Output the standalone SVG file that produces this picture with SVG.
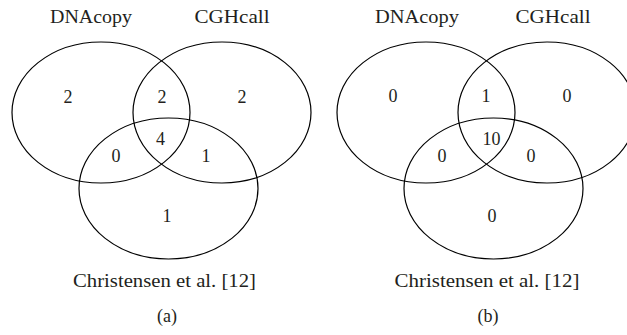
<svg xmlns="http://www.w3.org/2000/svg" width="627" height="335" viewBox="0 0 627 335">
<style>
.set{fill:none;stroke:#000;stroke-width:1.2}
text{font-family:"Liberation Serif","Times New Roman",serif;font-size:18px;fill:#231f20;text-anchor:middle}
</style>
<rect width="627" height="335" fill="#fff"/>
<g id="panel-a">
  <g id="a-dnacopy">
    <ellipse class="set" cx="101" cy="112.5" rx="89" ry="70.5"/>
    <text x="91" y="23" textLength="82" lengthAdjust="spacingAndGlyphs">DNAcopy</text>
  </g>
  <g id="a-cghcall">
    <ellipse class="set" cx="222" cy="112.5" rx="89" ry="70.5"/>
    <text x="232" y="23" textLength="75" lengthAdjust="spacingAndGlyphs">CGHcall</text>
  </g>
  <g id="a-christensen">
    <ellipse class="set" cx="168.5" cy="188.5" rx="89.5" ry="70.5"/>
    <text x="164.5" y="287" textLength="183" lengthAdjust="spacingAndGlyphs">Christensen et al. [12]</text>
  </g>
  <g id="a-counts">
    <text x="68" y="103">2</text>
    <text x="162" y="103">2</text>
    <text x="242" y="103">2</text>
    <text x="160.5" y="145">4</text>
    <text x="116" y="162">0</text>
    <text x="206" y="162">1</text>
    <text x="167" y="222">1</text>
  </g>
  <text x="167" y="322">(a)</text>
</g>
<g id="panel-b">
  <g id="b-dnacopy">
    <ellipse class="set" cx="426" cy="112.5" rx="89" ry="70.5"/>
    <text x="417" y="23" textLength="84" lengthAdjust="spacingAndGlyphs">DNAcopy</text>
  </g>
  <g id="b-cghcall">
    <ellipse class="set" cx="547" cy="112.5" rx="89" ry="70.5"/>
    <text x="553" y="23" textLength="75" lengthAdjust="spacingAndGlyphs">CGHcall</text>
  </g>
  <g id="b-christensen">
    <ellipse class="set" cx="493.5" cy="188.5" rx="89.5" ry="70.5"/>
    <text x="487" y="287" textLength="185" lengthAdjust="spacingAndGlyphs">Christensen et al. [12]</text>
  </g>
  <g id="b-counts">
    <text x="393" y="102">0</text>
    <text x="486" y="102">1</text>
    <text x="567" y="102">0</text>
    <text x="491.5" y="145">10</text>
    <text x="442" y="162">0</text>
    <text x="531" y="162">0</text>
    <text x="492" y="222">0</text>
  </g>
  <text x="488" y="322">(b)</text>
</g>
</svg>
